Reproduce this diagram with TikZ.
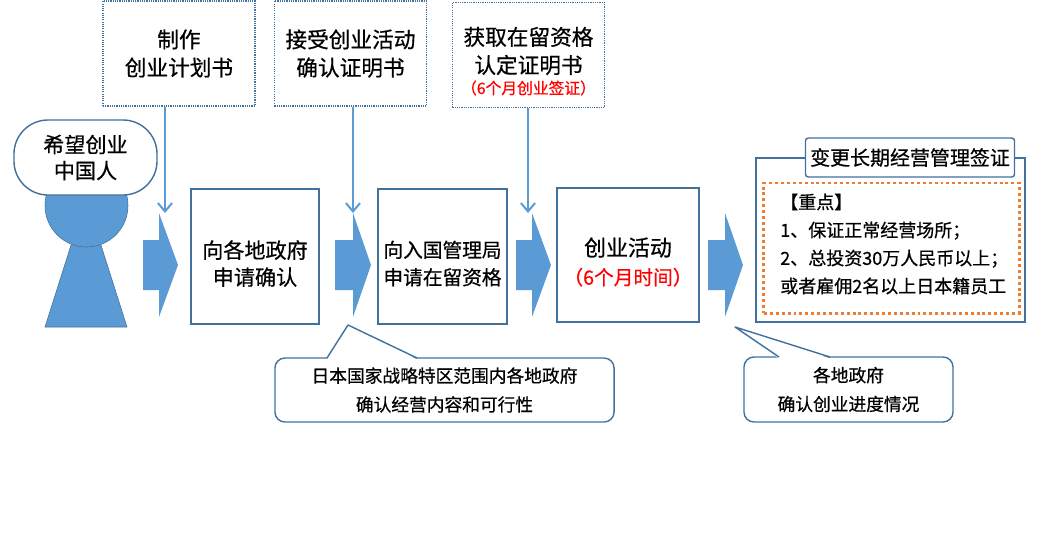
\documentclass[tikz,border=0pt]{standalone}
\usepackage{fontspec}
\setmainfont{Noto Sans CJK SC}[FakeBold=0.6]
\usetikzlibrary{arrows.meta}
\definecolor{ablue}{HTML}{5B9BD5}
\definecolor{lblue}{HTML}{41719C}
\definecolor{aorange}{HTML}{ED7D31}
\begin{document}
\begin{tikzpicture}[x=0.025cm, y=-0.025cm,
	tbox/.style={draw=lblue, line width=0.8pt, dash pattern=on 0.8pt off 0.8pt, minimum width=3.8cm, minimum height=2.625cm, align=center, font=\fontsize{15.4}{20}\selectfont},
	sbox/.style={draw=lblue, line width=1pt, minimum width=3.2cm, minimum height=3.375cm},
	lab/.style={align=center, yshift=-5pt, font=\fontsize{15}{19.2}\selectfont},
	call/.style={draw=lblue, line width=1pt, rounded corners=0.25cm, align=center, font=\fontsize{12.6}{20.5}\selectfont},
	varrow/.style={ablue, line width=1.4pt, -{Straight Barb[length=6pt,width=10pt]}}]
			\useasboundingbox (0,0) rectangle (1041,555);

			% top boxes
			\node (t1)[tbox] at (179,53.5) {制作\\创业计划书};
			\node (t2)[tbox] at (350.5,53.5) {接受创业活动\\确认证明书};
			\node (t3)[tbox] at (528.5,55) {};
			\node (t3a)[align=center, font=\fontsize{15.4}{20}\selectfont] at (528.5,51) {获取在留资格\\认定证明书};
			\node (t3r)[text=red, font=\fontsize{11.2}{13}\selectfont] at (528.5,88) {（6个月创业签证）};

			% person
			\filldraw[fill=ablue, draw=lblue] (86,198) -- (127,327) -- (45,327) -- cycle;
			\filldraw[fill=ablue, draw=lblue] (86.5,205.5) circle (41.5);
			\node (p)[draw=lblue, line width=1pt, fill=white, rounded corners=0.85cm, minimum width=3.575cm, minimum height=1.875cm, align=center, font=\fontsize{15}{18.5}\selectfont] at (85.5,157.5) {希望创业\\中国人};

			% block arrows
			\foreach \a/\b/\c in {143/159/178, 335/353/371, 516/532/551, 708/725/743}
				\fill[ablue] (\a,240) -- (\b,240) -- (\b,213) -- (\c,265) -- (\b,317) -- (\b,290) -- (\a,290) -- cycle;

			% steps
			\node (a)[sbox, label={[lab]center:{向各地政府\\申请确认}}] at (255,256.5) {};
			\node (b)[sbox, minimum width=3.225cm, label={[lab, font=\fontsize{14}{19.5}\selectfont]center:{向入国管理局\\申请在留资格}}] at (442.5,256.5) {};
			\node (c)[sbox, minimum width=3.55cm, minimum height=3.35cm, label={[lab, font=\fontsize{15.6}{20.5}\selectfont]center:{创业活动\\\textcolor{red}{\fontsize{14}{20.5}\selectfont（6个月时间）}}}] at (628,255) {};

			\coordinate (e1) at (165,213);
			\coordinate (e2) at (353,213);
			\coordinate (e3) at (528,213);
			\draw [varrow](t1.south -| e1) -- (e1);
			\draw [varrow](t2.south -| e2) -- (e2);
			\draw [varrow](t3.south -| e3) -- (e3);

			% long-term visa
			\node (r)[draw=lblue, line width=1pt, minimum width=6.725cm, minimum height=4.1cm] at (890.5,240) {};
			\node (rt)[draw=lblue, line width=1pt, fill=white, rounded corners=2pt, minimum width=5.15cm, minimum height=0.975cm, font=\fontsize{14.2}{17}\selectfont] at (910,157.5) {变更长期经营管理签证};
			\node (o)[draw=aorange, line width=2.1pt, dash pattern=on 2.1pt off 2.1pt, minimum width=6.375cm, minimum height=3.25cm] at (891.5,248) {};
			\node (ot)[anchor=west, inner sep=0pt, align=left, font=\fontsize{12.8}{19.9}\selectfont] at (780,244) {【重点】\\1、保证正常经营场所；\\2、总投资30万人民币以上；\\或者雇佣2名以上日本籍员工};

			% callouts
			\node (c1)[call, minimum width=8.475cm, minimum height=1.6cm] at (444.5,390) {日本国家战略特区范围内各地政府\\确认经营内容和可行性};
			\fill[white] (327,359.5) -- (348,325) -- (417,359.5) -- cycle;
			\draw[lblue, line width=1pt, line join=round] (327,358) -- (348,325) -- (417,358);
			\node (c2)[call, minimum width=5.225cm, minimum height=1.625cm] at (848.5,389.5) {各地政府\\确认创业进度情况};
			\fill[white] (779,358.5) -- (735,327) -- (830,358.5) -- cycle;
			\draw[lblue, line width=1pt, line join=round] (779,357) -- (735,327) -- (830,357);
\end{tikzpicture}
\end{document}
